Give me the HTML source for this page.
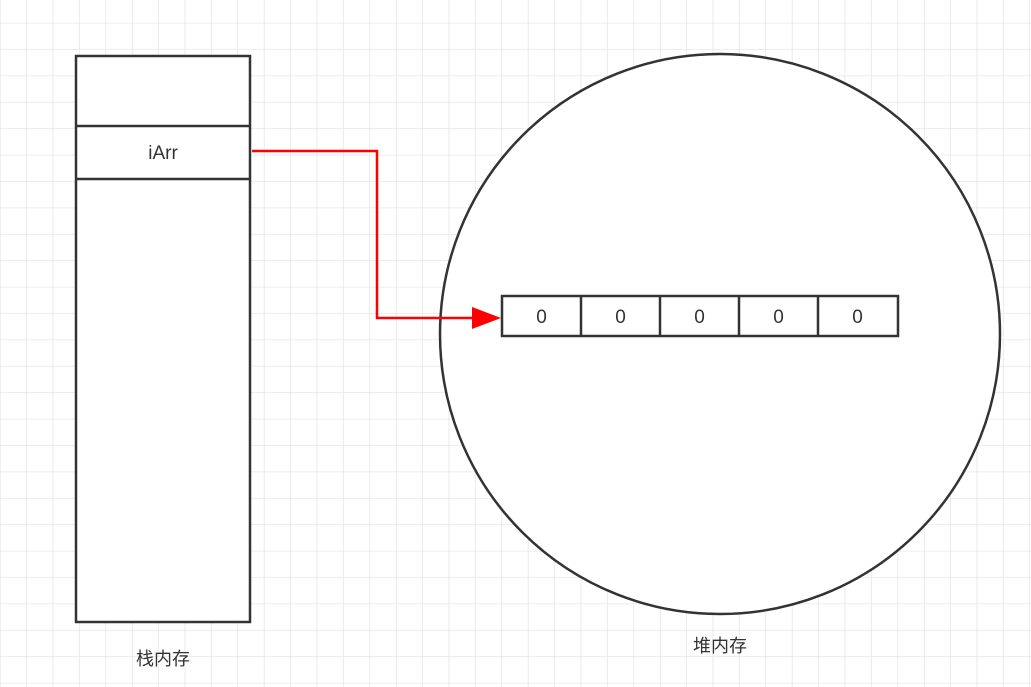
<!DOCTYPE html>
<html><head><meta charset="utf-8"><style>
html,body{margin:0;padding:0;background:#fff;}
svg{display:block;}
text{font-family:"Liberation Sans","Noto Sans CJK SC",sans-serif;fill:#333;}
</style></head><body>
<svg width="1031" height="687" viewBox="0 0 1031 687">
<defs>
<pattern id="grid" x="0.5" y="-3" width="26.4" height="26.4" patternUnits="userSpaceOnUse">
<path d="M26.4 0V26.4M0 26.4H26.4" stroke="#e2e2e2" stroke-width="1.3" fill="none"/>
</pattern>
</defs>
<rect width="1031" height="687" fill="url(#grid)"/>
<g>
<rect x="76" y="56" width="174" height="566" fill="#fff" stroke="#333" stroke-width="2.5"/>
<line x1="76" y1="126" x2="250" y2="126" stroke="#333" stroke-width="2.5"/>
<line x1="76" y1="179" x2="250" y2="179" stroke="#333" stroke-width="2.5"/>
<text x="163" y="159" font-size="19" text-anchor="middle">iArr</text>
</g>
<text x="163" y="665" font-size="18" text-anchor="middle">栈内存</text>
<ellipse cx="720" cy="334" rx="280" ry="280" fill="#fff" stroke="#333" stroke-width="2.5"/>
<text x="720" y="652" font-size="18" text-anchor="middle">堆内存</text>
<g>
<rect x="502" y="296" width="396" height="40" fill="#fff" stroke="#333" stroke-width="2.5"/>
<line x1="581" y1="296" x2="581" y2="336" stroke="#333" stroke-width="2.5"/>
<line x1="660" y1="296" x2="660" y2="336" stroke="#333" stroke-width="2.5"/>
<line x1="739" y1="296" x2="739" y2="336" stroke="#333" stroke-width="2.5"/>
<line x1="818" y1="296" x2="818" y2="336" stroke="#333" stroke-width="2.5"/>
<text x="541.5" y="323" font-size="19" text-anchor="middle">0</text>
<text x="620.5" y="323" font-size="19" text-anchor="middle">0</text>
<text x="699.5" y="323" font-size="19" text-anchor="middle">0</text>
<text x="778.5" y="323" font-size="19" text-anchor="middle">0</text>
<text x="857.5" y="323" font-size="19" text-anchor="middle">0</text>
</g>
<g>
<path d="M252 151H377V318H475" fill="none" stroke="#f00" stroke-width="2.5"/>
<path d="M472 307L501 318L472 329Z" fill="#f00"/>
</g>
</svg>
</body></html>
